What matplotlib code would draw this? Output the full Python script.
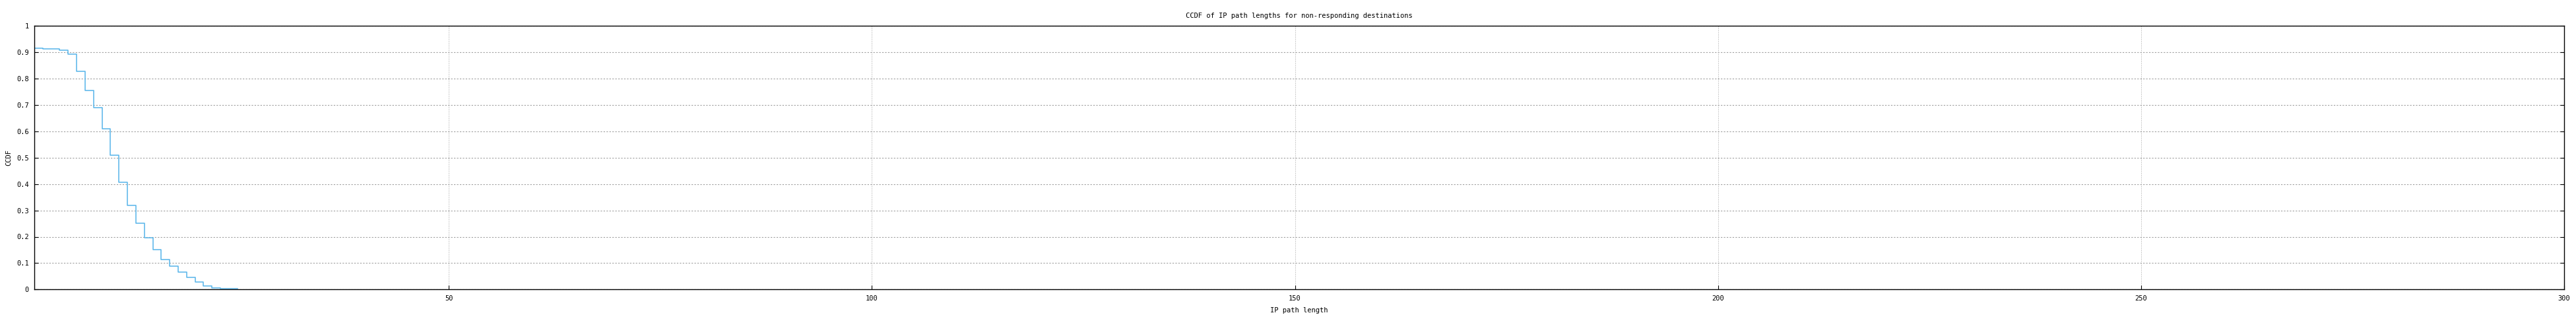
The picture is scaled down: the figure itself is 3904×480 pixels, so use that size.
import matplotlib
matplotlib.use('Agg')
import matplotlib.pyplot as plt

# CCDF of IP path lengths (step values)
path_length = [1, 2, 4, 5, 6, 7, 8, 9, 10, 11, 12, 13, 14, 15, 16, 17, 18, 19, 20, 21, 22, 23, 25]
ccdf = [0.915, 0.912, 0.907, 0.893, 0.827, 0.754, 0.689, 0.609, 0.509, 0.406, 0.318,
        0.251, 0.195, 0.150, 0.113, 0.088, 0.065, 0.045, 0.028, 0.013, 0.006, 0.003, 0.003]

x_ticks = [50, 100, 150, 200, 250, 300]
y_ticks = [0, 0.1, 0.2, 0.3, 0.4, 0.5, 0.6, 0.7, 0.8, 0.9, 1]
y_tick_labels = ['0', '0.1', '0.2', '0.3', '0.4', '0.5', '0.6', '0.7', '0.8', '0.9', '1']

plt.rcParams['font.family'] = ['DejaVu Sans Mono']
plt.rcParams['font.size'] = 7.5

fig = plt.figure(figsize=(39.05, 4.8), dpi=100)
ax = fig.add_axes([52 / 3905, 1 - 438.3 / 480, (3886 - 52) / 3905, (438.3 - 39.3) / 480])

ax.step(path_length, ccdf, where='post', color='#56b4e9', linewidth=1.1)

ax.set_xlim(1, 300)
ax.set_ylim(0, 1)
ax.set_xticks(x_ticks)
ax.set_yticks(y_ticks)
ax.set_yticklabels(y_tick_labels)

ax.grid(axis='y', color='#a0a0a0', linestyle=(0, (2, 2)), linewidth=0.8)
ax.grid(axis='x', color='#a0a0a0', linestyle=(0, (2, 2)), linewidth=0.5)

ax.tick_params(direction='in', length=4, width=0.8, top=False, right=True,
               labelsize=7.5, pad=6)
for s in ax.spines.values():
    s.set_linewidth(1.0)

ax.set_title('CCDF of IP path lengths for non-responding destinations', fontsize=7.5, pad=9)
ax.set_xlabel('IP path length', fontsize=7.5, labelpad=6)
ax.set_ylabel('CCDF', fontsize=7.5, labelpad=5)

fig.savefig('out.png', dpi=100)
